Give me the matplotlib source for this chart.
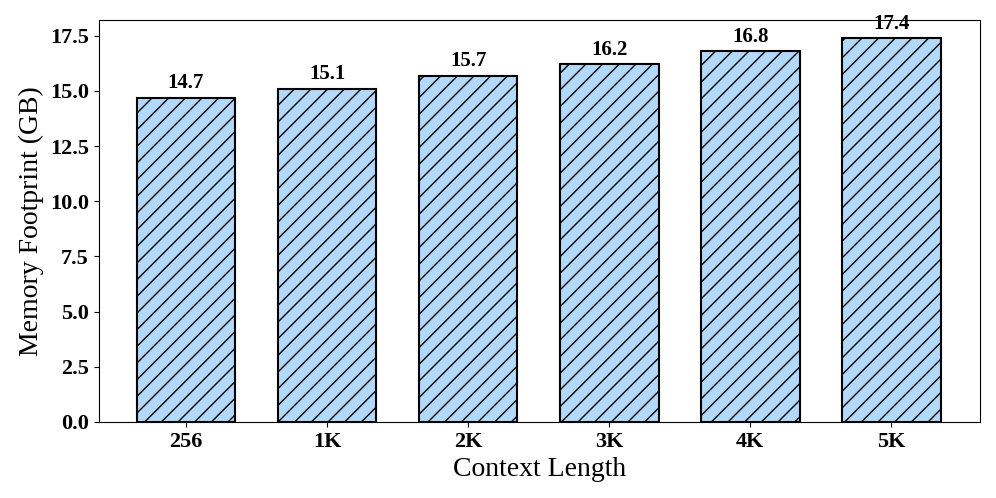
import matplotlib.pyplot as plt

plt.rcParams['font.family'] = ['Liberation Serif', 'DejaVu Serif']
plt.rcParams['hatch.linewidth'] = 1.0

lengths = ['256', '1K', '2K', '3K', '4K', '5K']
memory = [14.7, 15.1, 15.7, 16.2, 16.8, 17.4]

fig, ax = plt.subplots(figsize=(9.96, 4.98), dpi=100)
fig.subplots_adjust(left=0.099, right=0.984, top=0.96, bottom=0.153)

bars = ax.bar(range(len(lengths)), memory, width=0.7, color='#b3d9fa',
              edgecolor='black', linewidth=1.5, hatch='//')
for i, v in enumerate(memory):
    ax.text(i, v + 0.2, f'{v:.1f}', ha='center', va='bottom',
            fontsize=15, fontweight='bold')

ax.set_xticks(range(len(lengths)))
ax.set_xticklabels(lengths, fontsize=16, fontweight='bold')
ax.set_yticks([0, 2.5, 5, 7.5, 10, 12.5, 15, 17.5])
ax.set_yticklabels(['0.0', '2.5', '5.0', '7.5', '10.0', '12.5', '15.0', '17.5'],
                   fontsize=16, fontweight='bold')
ax.set_xlim(-0.62, 5.63)
ax.set_ylim(0, 18.22)
ax.set_xlabel('Context Length', fontsize=20)
ax.set_ylabel('Memory Footprint (GB)', fontsize=20)

plt.savefig('out.png', dpi=100)
